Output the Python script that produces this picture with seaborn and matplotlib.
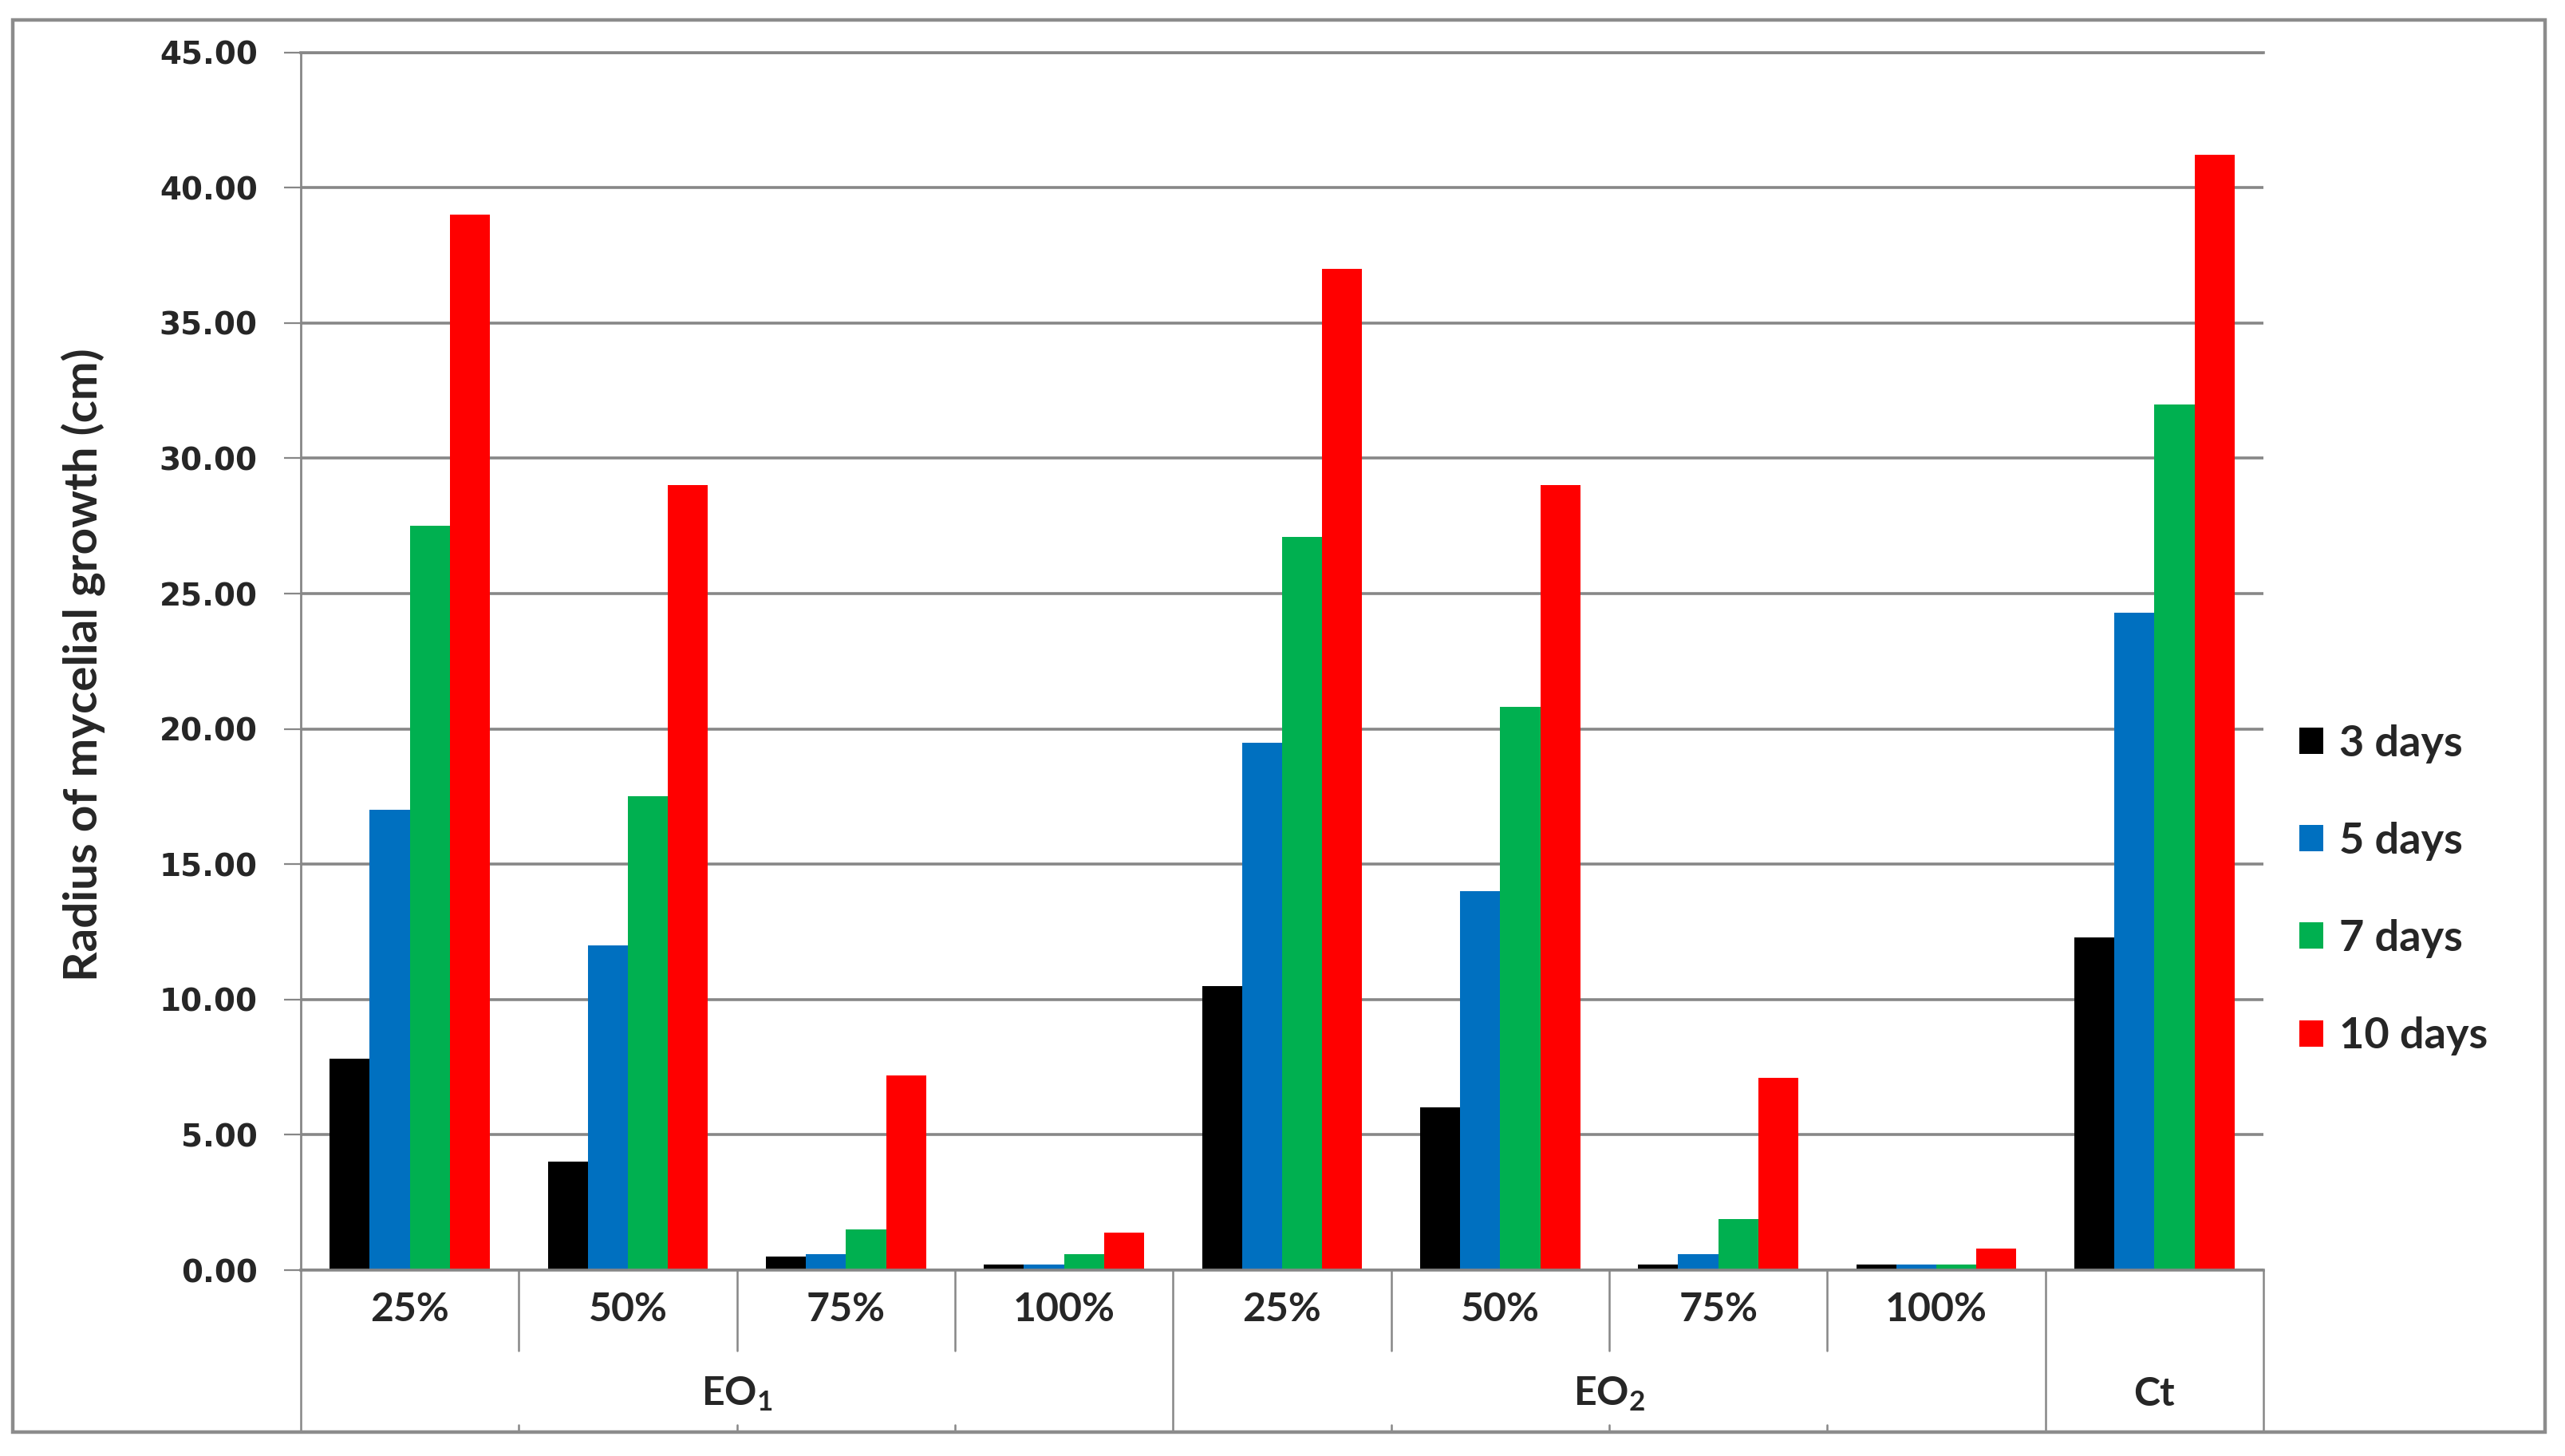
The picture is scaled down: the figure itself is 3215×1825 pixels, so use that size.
import numpy as np
import pandas as pd
import matplotlib
matplotlib.use("Agg")
import matplotlib.pyplot as plt
import matplotlib.transforms as mtransforms
from matplotlib.patches import Rectangle
import seaborn as sns

# ---------------- data ----------------
groups = ["EO1", "EO1", "EO1", "EO1", "EO2", "EO2", "EO2", "EO2", "Ct"]
concentrations = ["25%", "50%", "75%", "100%", "25%", "50%", "75%", "100%", ""]
group_names = [r"EO$_\mathbf{1}$", r"EO$_\mathbf{2}$", "Ct"]
group_centers = [1.5, 5.5, 8.0]
series_names = ["3 days", "5 days", "7 days", "10 days"]
day3 = [7.8, 4.0, 0.5, 0.2, 10.5, 6.0, 0.2, 0.2, 12.3]
day5 = [17.0, 12.0, 0.6, 0.2, 19.5, 14.0, 0.6, 0.2, 24.3]
day7 = [27.5, 17.5, 1.5, 0.6, 27.1, 20.8, 1.9, 0.2, 32.0]
day10 = [39.0, 29.0, 7.2, 1.4, 37.0, 29.0, 7.1, 0.8, 41.2]
colors = ["#000000", "#0070C0", "#00B050", "#FF0000"]
yticks = [0, 5, 10, 15, 20, 25, 30, 35, 40, 45]
ylabel = "Radius of mycelial growth (cm)"

# ---------------- style ----------------
sns.set_style("white")
plt.rcParams["font.family"] = ["Lato", "DejaVu Sans"]
plt.rcParams["mathtext.fontset"] = "custom"
plt.rcParams["mathtext.rm"] = "Lato"
plt.rcParams["mathtext.bf"] = "Lato:bold"
plt.rcParams["mathtext.it"] = "Lato:italic"

GRAY = "#878787"

keys = [f"{g} {c}" for g, c in zip(groups, concentrations)]
rows = []
for name, vals in zip(series_names, [day3, day5, day7, day10]):
    for k, v in zip(keys, vals):
        rows.append({"cat": k, "series": name, "value": v})
df = pd.DataFrame(rows)

fig = plt.figure(figsize=(32.16, 18.25), dpi=100)
fig.patch.set_facecolor("white")
ax = fig.add_axes([377 / 3216, 1 - 1592 / 1825, (2837 - 377) / 3216, (1592 - 65.6) / 1825])

sns.barplot(data=df, x="cat", y="value", hue="series", order=keys,
            hue_order=series_names, palette=colors, width=0.735,
            errorbar=None, linewidth=0, saturation=1, ax=ax)

ax.set_xlim(-0.5, 8.5)
ax.set_ylim(0, 45)
ax.set_yticks(yticks)
ax.set_yticklabels([f"{t:.2f}" for t in yticks], fontfamily="DejaVu Sans",
                   fontweight="bold", fontsize=28)
ax.tick_params(axis="y", length=15, width=1.6, color=GRAY, pad=24, left=True,
               direction="out")
ax.set_xticks([])
ax.set_xlabel("")
ax.set_ylabel(ylabel, fontsize=42, fontweight="bold", va="center")
ax.yaxis.set_label_coords((104 - 377) / 2460, 0.497)

ax.yaxis.grid(True, color=GRAY, lw=2.6)
ax.set_axisbelow(True)
for side in ["left", "bottom", "top"]:
    ax.spines[side].set_visible(True)
    ax.spines[side].set_color(GRAY)
    ax.spines[side].set_linewidth(2.6)
ax.spines["left"].set_linewidth(2.0)
ax.spines["right"].set_visible(False)

# multi-level category axis
trans = mtransforms.blended_transform_factory(ax.transData, ax.transAxes)
short_y = -(1693 - 1592) / 1526.4
long_y = -(1795 - 1592) / 1526.4
stub_y = -(1786 - 1592) / 1526.4
for b in [0.5, 1.5, 2.5, 4.5, 5.5, 6.5]:
    ax.plot([b, b], [0, short_y], transform=trans, color=GRAY, lw=1.8, clip_on=False)
    ax.plot([b, b], [stub_y, long_y], transform=trans, color=GRAY, lw=1.8, clip_on=False)
for b in [-0.5, 3.5, 7.5, 8.5]:
    ax.plot([b, b], [0, long_y], transform=trans, color=GRAY, lw=1.8, clip_on=False)

lab_y = -(1641 - 1592) / 1526.4
grp_y = -(1747 - 1592) / 1526.4
for i, c in enumerate(concentrations):
    ax.text(i, lab_y, c, transform=trans, ha="center", va="center",
            fontsize=36, fontweight="bold")
for x, g in zip(group_centers, group_names):
    ax.text(x, grp_y, g, transform=trans, ha="center", va="center",
            fontsize=36, fontweight="bold")

# legend
handles, labels = ax.get_legend_handles_labels()
if ax.get_legend() is not None:
    ax.get_legend().remove()
fig.legend(handles, labels, loc="center left",
           bbox_to_anchor=(2882 / 3216, 1 - 1115.5 / 1825),
           frameon=False, prop={"family": ["Lato", "DejaVu Sans"], "weight": "bold", "size": 39},
           handlelength=0.56, handleheight=0.56, handletextpad=0.37,
           labelspacing=1.35, borderpad=0, borderaxespad=0)

# outer frame
fig.patches.append(Rectangle((16 / 3216, 1 - 1795 / 1825), (3190 - 16) / 3216,
                             (1795 - 25) / 1825, transform=fig.transFigure,
                             fill=False, edgecolor="#8C8C8C", lw=3.2))

fig.savefig("out.png", dpi=100)
